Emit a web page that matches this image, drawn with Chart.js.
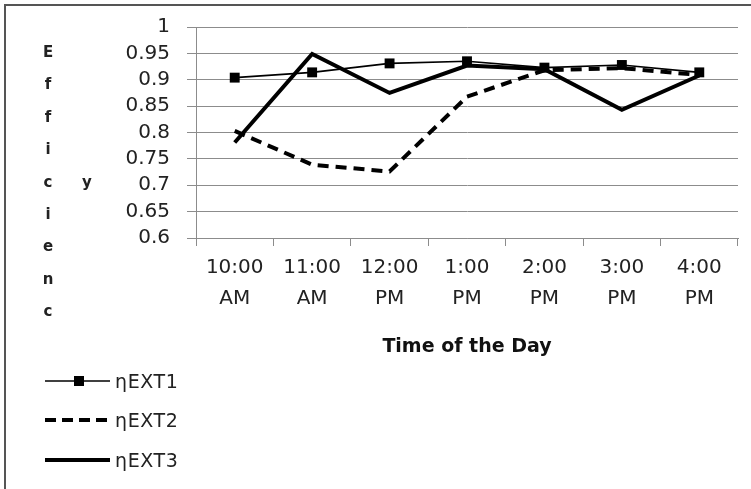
<!DOCTYPE html>
<html lang="en">
  <head>
    <meta charset="UTF-8" />
    <title>Efficiency vs Time of the Day</title>
    <script src="https://cdn.jsdelivr.net/npm/chart.js"></script>
    <style>
      html, body {
        margin: 0;
        padding: 0;
        background: #fff;
      }
      .frame {
        position: relative;
        width: 751px;
        height: 489px;
        overflow: hidden;
        font-family: "DejaVu Sans", sans-serif;
        color: #222;
      }
      .frame canvas {
        position: absolute;
        left: 0;
        top: 0;
      }
      .border-top {
        position: absolute;
        left: 4px;
        top: 4px;
        width: 760px;
        height: 2px;
        background: #555;
      }
      .border-left {
        position: absolute;
        left: 4px;
        top: 4px;
        width: 2px;
        height: 500px;
        background: #555;
      }
      .ytitle {
        position: absolute;
        font-weight: bold;
        font-size: 15px;
        text-align: center;
        width: 20px;
        line-height: 32.4px;
      }
      .legend {
        position: absolute;
        left: 45px;
        top: 361px;
      }
      .legend-item {
        display: flex;
        align-items: center;
        height: 39.5px;
        font-size: 19px;
        letter-spacing: 0.6px;
      }
      .legend-item svg {
        margin-right: 5px;
      }
    </style>
  </head>
  <body>
    <div class="frame">
      <canvas id="effChart" width="751" height="489"></canvas>
      <div class="border-top"></div>
      <div class="border-left"></div>

      <!-- y title, wrapped letter by letter like the original -->
      <div class="ytitle" style="left: 38px; top: 36px">E<br />f<br />f<br />i<br />c<br />i<br />e<br />n<br />c</div>
      <div class="ytitle" style="left: 77px; top: 166px">y</div>

      <div class="legend" id="legendBox"></div>
    </div>

    <script>
      const categories = [
        ["10:00", "AM"],
        ["11:00", "AM"],
        ["12:00", "PM"],
        ["1:00", "PM"],
        ["2:00", "PM"],
        ["3:00", "PM"],
        ["4:00", "PM"],
      ];
      const seriesNames = ["ηEXT1", "ηEXT2", "ηEXT3"];
      const ext1 = [0.904, 0.914, 0.931, 0.935, 0.923, 0.928, 0.914];
      const ext2 = [0.803, 0.739, 0.726, 0.868, 0.918, 0.922, 0.909];
      const ext3 = [0.781, 0.949, 0.875, 0.927, 0.92, 0.843, 0.908];
      const yMin = 0.6;
      const yMax = 1;
      const yStep = 0.05;

      const gridColor = "#8c8c8c";

      new Chart(document.getElementById("effChart"), {
        type: "line",
        data: {
          labels: categories,
          datasets: [
            {
              label: seriesNames[0],
              data: ext1,
              borderColor: "#000",
              borderWidth: 1.6,
              pointStyle: "rect",
              pointRadius: 7,
              pointBackgroundColor: "#000",
              pointBorderColor: "#000",
              pointBorderWidth: 0,
              tension: 0,
            },
            {
              label: seriesNames[1],
              data: ext2,
              borderColor: "#000",
              borderWidth: 4,
              borderDash: [11, 7],
              pointRadius: 0,
              tension: 0,
            },
            {
              label: seriesNames[2],
              data: ext3,
              borderColor: "#000",
              borderWidth: 4,
              pointRadius: 0,
              tension: 0,
            },
          ],
        },
        options: {
          responsive: false,
          animation: false,
          devicePixelRatio: 1,
          layout: {
            padding: { left: 0, right: 13, top: 23, bottom: 126 },
          },
          plugins: {
            legend: { display: false },
            tooltip: { enabled: false },
          },
          scales: {
            x: {
              offset: true,
              afterFit: function (scale) {
                scale.height = 125;
              },
              grid: {
                offset: true,
                drawOnChartArea: false,
                drawTicks: true,
                tickLength: 8,
                color: gridColor,
              },
              border: { color: gridColor },
              ticks: {
                color: "#222",
                padding: 6,
                maxRotation: 0,
                autoSkip: false,
                font: { family: "DejaVu Sans", size: 20, lineHeight: 1.55 },
              },
              title: {
                display: true,
                text: "Time of the Day",
                color: "#111",
                padding: { top: 0, bottom: 5 },
                font: { family: "DejaVu Sans", size: 19, weight: "bold" },
              },
            },
            y: {
              min: yMin,
              max: yMax,
              afterFit: function (scale) {
                scale.width = 196;
              },
              grid: {
                color: gridColor,
                tickLength: 9,
              },
              border: { color: gridColor },
              ticks: {
                stepSize: yStep,
                autoSkip: false,
                color: "#222",
                padding: 17,
                font: { family: "DejaVu Sans", size: 20, lineHeight: 1 },
                callback: function (v) {
                  return Number(v.toFixed(2)).toString();
                },
              },
            },
          },
        },
      });

      // legend built next to the canvas, one row per series
      const samples = [
        '<line x1="0" y1="10" x2="65" y2="10" stroke="#000" stroke-width="1.6"/><rect x="29" y="5" width="10" height="10" fill="#000"/>',
        '<line x1="0" y1="10" x2="65" y2="10" stroke="#000" stroke-width="4" stroke-dasharray="11,6"/>',
        '<line x1="0" y1="10" x2="65" y2="10" stroke="#000" stroke-width="4"/>',
      ];
      let rows = "";
      seriesNames.forEach(function (name, i) {
        rows += `
          <div class="legend-item">
            <svg width="65" height="20">${samples[i]}</svg>
            <span>${name}</span>
          </div>`;
      });
      document.getElementById("legendBox").innerHTML = rows;
    </script>
  </body>
</html>
